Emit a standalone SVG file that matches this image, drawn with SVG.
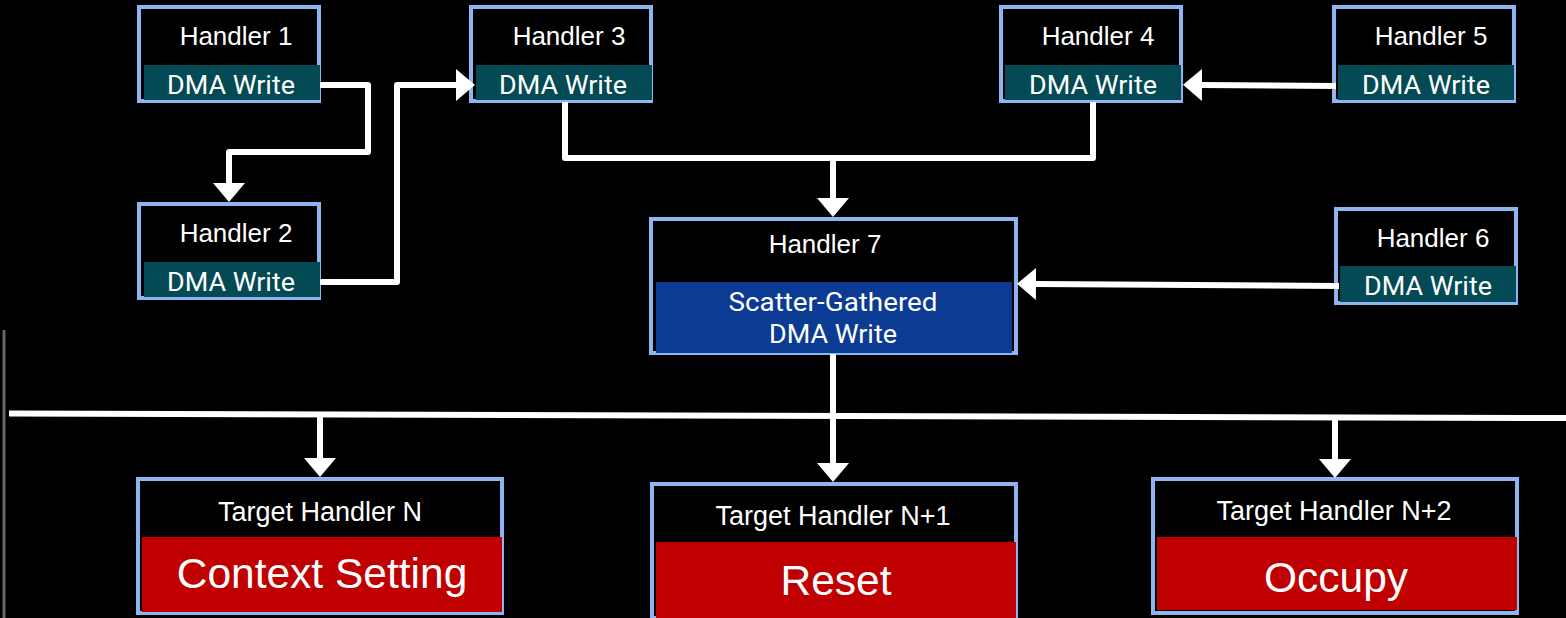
<svg xmlns="http://www.w3.org/2000/svg" width="1566" height="618" viewBox="0 0 1566 618">
  <style>
    .frame { fill: #000; stroke: #8fb4f2; stroke-width: 4; }
    .dma { fill: #034a54; }
    .sg { fill: #0c3b93; }
    .act { fill: #c00000; }
    .title { font-family: "Liberation Sans", Arial, sans-serif; font-size: 26px; fill: #fff; text-anchor: middle; }
    .ttl { font-family: "Liberation Sans", Arial, sans-serif; font-size: 27px; fill: #fff; text-anchor: middle; }
    .op { font-family: Roboto, "Noto Sans", sans-serif; font-size: 25px; fill: #fff; text-anchor: middle; }
    .big { font-family: "Liberation Sans", Arial, sans-serif; font-size: 42.5px; fill: #fff; text-anchor: middle; }
    .wire { fill: none; stroke: #fff; stroke-width: 6; stroke-linejoin: round; }
  </style>
  <defs>
    <marker id="head" markerUnits="userSpaceOnUse" markerWidth="20" markerHeight="34" viewBox="0 0 20 34" refX="0" refY="17" orient="auto">
      <path d="M0,1 L19,17 L0,33 z" fill="#fff"/>
    </marker>
  </defs>

  <rect width="1566" height="618" fill="#000"/>
  <!-- slide edge on the left -->
  <line x1="4" y1="330" x2="4" y2="618" stroke="#666" stroke-width="3"/>

  <g id="handler1">
    <rect class="frame" x="139" y="7" width="180" height="94"/>
    <rect class="dma" x="144" y="65" width="176" height="35"/>
    <text class="title" x="236" y="45">Handler 1</text>
    <text class="op" x="231" y="94" textLength="128" lengthAdjust="spacingAndGlyphs">DMA Write</text>
  </g>
  <g id="handler2">
    <rect class="frame" x="139" y="204" width="180" height="94"/>
    <rect class="dma" x="144" y="262" width="176" height="35"/>
    <text class="title" x="236" y="242">Handler 2</text>
    <text class="op" x="231" y="291" textLength="128" lengthAdjust="spacingAndGlyphs">DMA Write</text>
  </g>
  <g id="handler3">
    <rect class="frame" x="471" y="7" width="180" height="94"/>
    <rect class="dma" x="476" y="65" width="176" height="35"/>
    <text class="title" x="569" y="45">Handler 3</text>
    <text class="op" x="563" y="94" textLength="128" lengthAdjust="spacingAndGlyphs">DMA Write</text>
  </g>
  <g id="handler4">
    <rect class="frame" x="1001" y="7" width="180" height="94"/>
    <rect class="dma" x="1005" y="65" width="176" height="35"/>
    <text class="title" x="1098" y="45">Handler 4</text>
    <text class="op" x="1093" y="94" textLength="128" lengthAdjust="spacingAndGlyphs">DMA Write</text>
  </g>
  <g id="handler5">
    <rect class="frame" x="1334" y="7" width="180" height="94"/>
    <rect class="dma" x="1338" y="65" width="176" height="35"/>
    <text class="title" x="1431" y="45">Handler 5</text>
    <text class="op" x="1426" y="94" textLength="128" lengthAdjust="spacingAndGlyphs">DMA Write</text>
  </g>
  <g id="handler6">
    <rect class="frame" x="1336" y="209" width="180" height="94"/>
    <rect class="dma" x="1340" y="266" width="176" height="36"/>
    <text class="title" x="1433" y="247">Handler 6</text>
    <text class="op" x="1428" y="295" textLength="128" lengthAdjust="spacingAndGlyphs">DMA Write</text>
  </g>
  <g id="handler7">
    <rect class="frame" x="651" y="219" width="365" height="134"/>
    <rect class="sg" x="656" y="282" width="356" height="71"/>
    <text class="title" x="825" y="253">Handler 7</text>
    <text class="op" x="833" y="311" textLength="209" lengthAdjust="spacingAndGlyphs">Scatter-Gathered</text>
    <text class="op" x="833" y="343" textLength="128" lengthAdjust="spacingAndGlyphs">DMA Write</text>
  </g>

  <g id="targetN">
    <rect class="frame" x="138" y="479" width="364" height="134"/>
    <rect class="act" x="142" y="537" width="360" height="75"/>
    <text class="ttl" x="320" y="521">Target Handler N</text>
    <text class="big" x="322" y="588">Context Setting</text>
  </g>
  <g id="targetN1">
    <rect class="frame" x="652" y="484" width="364" height="134"/>
    <rect class="act" x="656" y="542" width="360" height="76"/>
    <text class="ttl" x="833" y="525">Target Handler N+1</text>
    <text class="big" x="836" y="595">Reset</text>
  </g>
  <g id="targetN2">
    <rect class="frame" x="1153" y="479" width="364" height="134"/>
    <rect class="act" x="1157" y="537" width="360" height="73"/>
    <text class="ttl" x="1334" y="520">Target Handler N+2</text>
    <text class="big" x="1336" y="592">Occupy</text>
  </g>

  <g id="connectors">
    <path class="wire" d="M320,85 H368 V152 H229 V183" marker-end="url(#head)"/>
    <path class="wire" d="M320,282 H397 V85 H456" marker-end="url(#head)"/>
    <path class="wire" d="M565,102 V158 H1093 V102"/>
    <path class="wire" d="M833,158 V198" marker-end="url(#head)"/>
    <path class="wire" d="M1336,86 L1202,85" marker-end="url(#head)"/>
    <path class="wire" d="M1339,286 L1036,284" marker-end="url(#head)"/>
    <path class="wire" d="M833,354 V463" marker-end="url(#head)"/>
    <path class="wire" d="M9,413.5 L1566,418"/>
    <path class="wire" d="M320,414 V458" marker-end="url(#head)"/>
    <path class="wire" d="M1335,417 V459" marker-end="url(#head)"/>
  </g>
</svg>
